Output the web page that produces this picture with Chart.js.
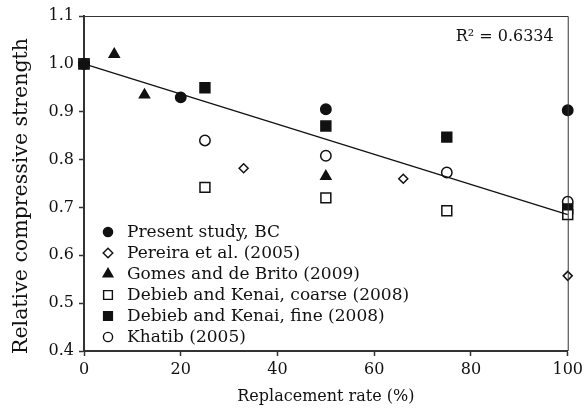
<!DOCTYPE html>
<html>
<head>
<meta charset="utf-8">
<script src="https://cdn.jsdelivr.net/npm/chart.js@4"></script>
<style>
  html, body { margin: 0; padding: 0; background: #fff; }
  #wrap { width: 587px; height: 416px; }
</style>
</head>
<body>
<div id="wrap"><canvas id="scatter"></canvas></div>
<script>
// Resistência relativa à compressão x taxa de substituição
const presentX = [0, 20, 50, 100];
const presentY = [1.0, 0.93, 0.905, 0.903];

const pereiraX = [33, 66, 100];
const pereiraY = [0.782, 0.76, 0.557];

const gomesX = [6.25, 12.5, 50];
const gomesY = [1.02, 0.935, 0.765];

const coarseX = [0, 25, 50, 75, 100];
const coarseY = [1.0, 0.742, 0.72, 0.693, 0.685];

const fineX = [0, 25, 50, 75, 100];
const fineY = [1.0, 0.95, 0.87, 0.847, 0.697];

const khatibX = [0, 25, 50, 75, 100];
const khatibY = [1.0, 0.84, 0.808, 0.773, 0.712];

// linha de tendência (regressão linear)
const trendX = [0, 100];
const trendY = [1.0, 0.685];
const r2Text = 'R\u00b2 = 0.6334';
const yTitle = 'Relative compressive strength';

const FONT = 'DejaVu Serif';

// tamanho do marcador na legenda, por estilo
const legendRadius = { circle: 4.6, rectRot: 4.8, triangle: 5.6, rect: 6.2 };

function pontos(xs, ys) {
    return xs.map((x, i) => ({ x: x, y: ys[i] }));
}

function serie(label, xs, ys, style, fill, radius) {
    return {
        type: 'scatter',
        label: label,
        data: pontos(xs, ys),
        pointStyle: style,
        pointRadius: radius,
        pointBackgroundColor: fill,
        pointBorderColor: '#111',
        pointBorderWidth: 1.5,
        backgroundColor: fill,
        borderColor: '#111',
        clip: false
    };
}

// moldura superior/direita, título do eixo y, texto do R² e legenda
const molduraPlugin = {
    id: 'moldura',
    afterDraw(chart) {
        const { ctx, chartArea: a } = chart;
        ctx.save();
        ctx.strokeStyle = '#333';
        ctx.lineWidth = 1;
        ctx.beginPath();
        ctx.moveTo(a.left, a.top + 0.5);
        ctx.lineTo(a.right + 0.5, a.top + 0.5);
        ctx.lineTo(a.right + 0.5, a.bottom);
        ctx.stroke();

        ctx.fillStyle = '#111';
        ctx.font = '16px "' + FONT + '"';
        ctx.textAlign = 'right';
        ctx.textBaseline = 'middle';
        ctx.fillText(r2Text, a.right - 14, a.top + 21);

        // título do eixo y (um pouco abaixo do centro)
        ctx.save();
        ctx.translate(22, 196);
        ctx.rotate(-Math.PI / 2);
        ctx.font = '20.5px "' + FONT + '"';
        ctx.textAlign = 'center';
        ctx.fillText(yTitle, 0, 0);
        ctx.restore();

        // legenda
        const series = chart.data.datasets.filter(d => d.type === 'scatter');
        const x0 = a.left + 24;
        const y0 = a.bottom - 119;
        series.forEach((d, i) => {
            const y = y0 + i * 21;
            ctx.fillStyle = d.pointBackgroundColor;
            ctx.strokeStyle = '#111';
            ctx.lineWidth = 1.4;
            Chart.helpers.drawPoint(ctx, {
                pointStyle: d.pointStyle,
                radius: legendRadius[d.pointStyle],
                rotation: 0,
                borderWidth: 1.4
            }, x0, y);
            ctx.fillStyle = '#111';
            ctx.font = '17px "' + FONT + '"';
            ctx.textAlign = 'left';
            ctx.textBaseline = 'middle';
            ctx.fillText(d.label, x0 + 19, y + 1);
        });
        ctx.restore();
    }
};

const ctx = document.getElementById('scatter').getContext('2d');
const grafico = new Chart(ctx, {
    data: {
        datasets: [
            {
                type: 'line',
                label: 'trend',
                data: pontos(trendX, trendY),
                borderColor: '#111',
                borderWidth: 1.3,
                pointRadius: 0,
                fill: false,
                clip: false
            },
            serie('Present study, BC', presentX, presentY, 'circle', '#111', 5.2),
            serie('Pereira et al. (2005)', pereiraX, pereiraY, 'rectRot', '#fff', 4.5),
            serie('Gomes and de Brito (2009)', gomesX, gomesY, 'triangle', '#111', 5.8),
            serie('Debieb and Kenai, coarse (2008)', coarseX, coarseY, 'rect', '#fff', 7),
            serie('Debieb and Kenai, fine (2008)', fineX, fineY, 'rect', '#111', 7),
            serie('Khatib (2005)', khatibX, khatibY, 'circle', '#fff', 5.2)
        ]
    },
    options: {
        responsive: true,
        maintainAspectRatio: false,
        animation: false,
        layout: { padding: { top: 16, right: 16, left: 0, bottom: 6 } },
        plugins: {
            tooltip: { enabled: false },
            legend: { display: false }
        },
        scales: {
            x: {
                type: 'linear',
                min: 0,
                max: 100,
                afterFit: (s) => { s.height = 59; },
                border: { color: '#333', width: 2 },
                grid: { drawOnChartArea: false, color: '#333', tickLength: 5, tickWidth: 1.5 },
                ticks: { stepSize: 20, color: '#111', padding: 4, font: { family: FONT, size: 16 } },
                title: {
                    display: true,
                    text: 'Replacement rate (%)',
                    color: '#111',
                    padding: { top: 0 },
                    font: { family: FONT, size: 16 }
                }
            },
            y: {
                type: 'linear',
                min: 0.4,
                max: 1.1,
                afterFit: (s) => { s.width = 84; },
                border: { color: '#333', width: 2 },
                grid: { drawOnChartArea: false, color: '#333', tickLength: 5, tickWidth: 1.5 },
                ticks: {
                    stepSize: 0.1,
                    color: '#111',
                    padding: 5,
                    font: { family: FONT, size: 16 },
                    callback: (v) => v.toFixed(1)
                }
            }
        }
    },
    plugins: [molduraPlugin]
});
</script>
</body>
</html>
